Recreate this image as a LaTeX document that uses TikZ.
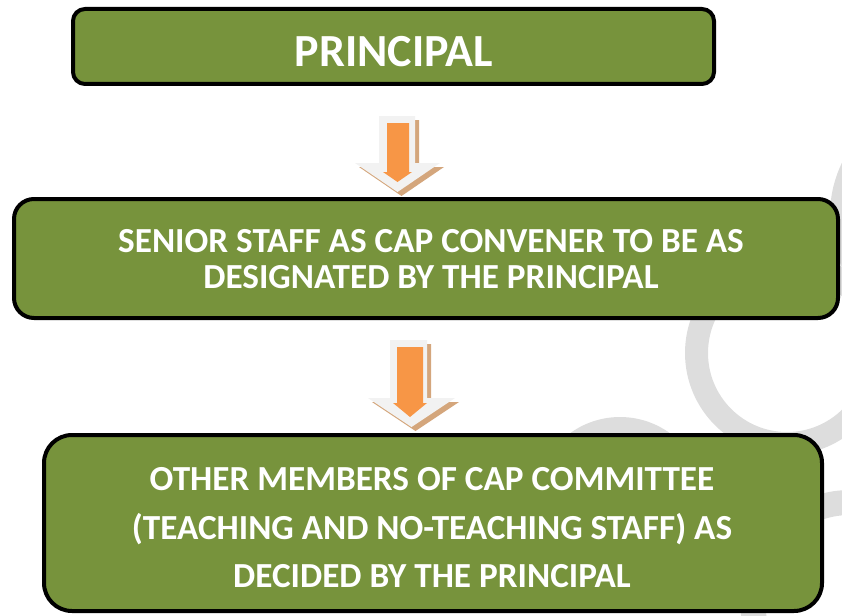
\documentclass[tikz,border=0pt]{standalone}
\usepackage{fontspec}
\setmainfont{Carlito}
\definecolor{boxgreen}{HTML}{77933C}
\definecolor{ringgray}{HTML}{DDDDDD}
\definecolor{arrowlight}{HTML}{F2F2F2}
\definecolor{arrowshadow}{HTML}{D4A67C}
\definecolor{arroworange}{HTML}{F79646}
\tikzset{
  box/.style={draw=black, line width=4pt, fill=boxgreen, inner sep=0pt},
  lbl/.style={text=white, font=\bfseries, align=center, inner sep=0pt},
  ring/.style={fill=ringgray, even odd rule},
}
\begin{document}
\begin{tikzpicture}[x=1pt,y=-1pt]
\useasboundingbox (0,0) rectangle (842,615);
% background rings
\fill[ring] (787,353) circle[radius=102] (787,353) circle[radius=79];
\fill[ring] (620,502) circle[radius=85] (620,502) circle[radius=62];
\fill[ring] (850,600) circle[radius=110] (850,600) circle[radius=85];
\fill[ring] (950,215) circle[radius=120] (950,215) circle[radius=97];
% boxes
\node[box, rounded corners=12pt, minimum width=641pt, minimum height=75pt] (b1) at (393.5,46.5) {};
\node[box, rounded corners=20pt, minimum width=824pt, minimum height=119pt] (b2) at (426,258.5) {};
\node[box, rounded corners=28pt, minimum width=778pt, minimum height=176pt] (b3) at (433,523) {};
% texts
\node[lbl, font=\bfseries\fontsize{46}{54}\selectfont] (t1) at (394,52) {PRINCIPAL};
\node[lbl, font=\bfseries\fontsize{35.2}{36}\selectfont] (t2) at (431,259) {SENIOR STAFF AS CAP CONVENER TO BE AS\\DESIGNATED BY THE PRINCIPAL};
\node[lbl, font=\bfseries\fontsize{35.2}{48.5}\selectfont] (t3) at (432,528) {OTHER MEMBERS OF CAP COMMITTEE\\(TEACHING AND NO-TEACHING STAFF) AS\\DECIDED BY THE PRINCIPAL};
% arrow 1
\coordinate (a1) at (397.5,116);
\fill[arrowshadow] ([shift={(4,4)}]a1) ++(-18.5,0) -- ++(36,0) -- ++(0,47) -- ++(25,0) -- ++(-42.5,29) -- ++(-42.5,-29) -- ++(24,0) -- cycle;
\fill[arrowlight] (a1) ++(-18.5,0) -- ++(36,0) -- ++(0,47) -- ++(25,0) -- ++(-42.5,29) -- ++(-42.5,-29) -- ++(24,0) -- cycle;
\fill[arroworange] (a1) ++(-10.5,7) -- ++(22,0) -- ++(0,49) -- ++(3,0) -- ++(-14.5,10) -- ++(-14.5,-10) -- ++(4,0) -- cycle;
% arrow 2
\coordinate (a2) at (410.5,340);
\fill[arrowshadow] ([shift={(4,4)}]a2) ++(-20.5,0) -- ++(37,0) -- ++(0,58) -- ++(28,0) -- ++(-43.5,29) -- ++(-43.5,-29) -- ++(22,0) -- cycle;
\fill[arrowlight] (a2) ++(-20.5,0) -- ++(37,0) -- ++(0,58) -- ++(28,0) -- ++(-43.5,29) -- ++(-43.5,-29) -- ++(22,0) -- cycle;
\fill[arroworange] (a2) ++(-13.5,7) -- ++(26,0) -- ++(0,56) -- ++(4,0) -- ++(-17,14) -- ++(-17,-14) -- ++(4,0) -- cycle;
\end{tikzpicture}
\end{document}
